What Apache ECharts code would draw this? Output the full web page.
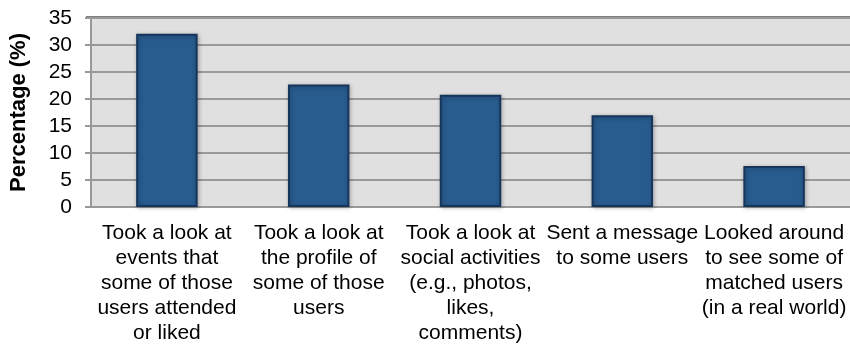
<!DOCTYPE html>
<html><head><meta charset="utf-8">
<script src="https://cdn.jsdelivr.net/npm/echarts@6/dist/echarts.min.js"></script>
<style>html,body{margin:0;padding:0;background:#fff}#c{width:850px;height:347px}</style>
</head><body><div id="c"></div>
<script>
const categories = [
  "Took a look at\nevents that\nsome of those\nusers attended\nor liked",
  "Took a look at\nthe profile of\nsome of those\nusers",
  "Took a look at\nsocial activities\n(e.g., photos,\nlikes,\ncomments)",
  "Sent a message\nto some users",
  "Looked around\nto see some of\nmatched users\n(in a real world)"
];
const values = [32.1, 22.7, 20.8, 17.0, 7.6];
const yTicks = [0, 5, 10, 15, 20, 25, 30, 35];

const chart = echarts.init(document.getElementById('c'), null, {renderer: 'canvas'});
chart.setOption({
  animation: false,
  textStyle: {fontFamily: 'Liberation Sans, Arial, sans-serif'},
  grid: {left: 86, top: 18, right: -2, bottom: 140, show: true, backgroundColor: '#e0e0e0', borderWidth: 0},
  xAxis: {
    type: 'category', data: categories,
    axisLine: {show: true, lineStyle: {color: '#999', width: 2}},
    axisTick: {show: false},
    axisLabel: {color: '#000', fontSize: 21, lineHeight: 25, margin: 14, interval: 0}
  },
  yAxis: {
    type: 'value', min: yTicks[0], max: yTicks[yTicks.length - 1], interval: 5,
    name: 'Percentage (%)', nameLocation: 'middle', nameGap: 61,
    nameTextStyle: {fontSize: 22, fontWeight: 'bold', color: '#000'},
    axisLine: {show: true, lineStyle: {color: '#999', width: 2}},
    axisTick: {show: true, length: 6, lineStyle: {color: '#999', width: 2}},
    axisLabel: {color: '#000', fontSize: 21, margin: 19},
    splitLine: {show: true, lineStyle: {color: '#999', width: 2}}
  },
  series: [{
    type: 'bar', data: values, barWidth: '40.5%',
    itemStyle: {color: '#285b8e', borderColor: '#16355a', borderWidth: 2,
      shadowColor: 'rgba(0,0,0,0.25)', shadowBlur: 4, shadowOffsetX: 1, shadowOffsetY: 1}
  }],
  graphic: [{
    type: 'line', shape: {x1: 86, y1: 17.5, x2: 850, y2: 17.5},
    style: {stroke: '#000', lineWidth: 2}
  }]
});
</script></body></html>
